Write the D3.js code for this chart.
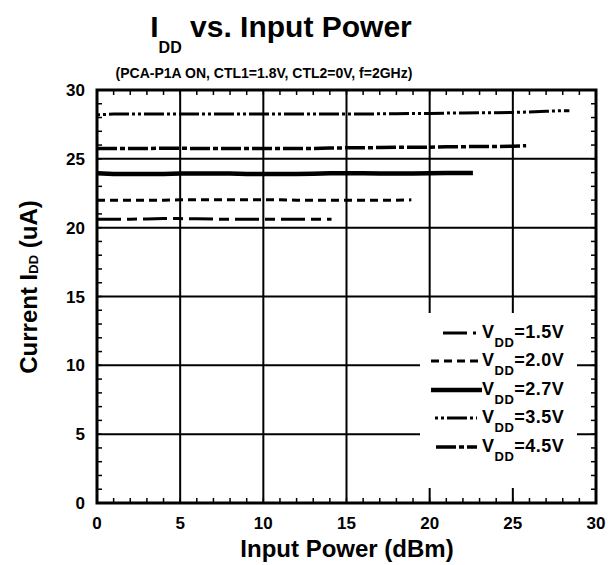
<!DOCTYPE html>
<html>
<head>
<meta charset="utf-8">
<script src="https://cdn.jsdelivr.net/npm/d3@7"></script>
<style>
  body { margin: 0; background: #fff; }
  text { font-family: "Liberation Sans", Arial, sans-serif; font-weight: bold; fill: #000; }
</style>
</head>
<body>
<svg id="chart" width="608" height="565"></svg>
<script>
var svg = d3.select("#chart"),
  width = +svg.attr("width"),
  height = +svg.attr("height");

// Data
var xTicks = [0, 5, 10, 15, 20, 25, 30];
var yTicks = [0, 5, 10, 15, 20, 25, 30];
var seriesNames = ["1.5V", "2.0V", "2.7V", "3.5V", "4.5V"];

var pin15 = [0, 1, 2, 3, 4, 5, 6, 7, 8, 9, 10, 11, 12, 13, 14.1];
var idd15 = [20.62, 20.62, 20.62, 20.63, 20.66, 20.66, 20.64, 20.62, 20.62, 20.62, 20.62, 20.62, 20.62, 20.62, 20.62];

var pin20 = [0, 1, 2, 3, 4, 5, 6, 7, 8, 9, 10, 11, 12, 13, 14, 15, 16, 17, 18, 18.9];
var idd20 = [22.0, 22.0, 22.0, 22.0, 22.0, 22.02, 22.02, 22.02, 22.02, 22.02, 22.02, 22.02, 22.0, 22.0, 22.0, 22.0, 22.0, 22.0, 22.0, 22.02];

var pin27 = [0, 1, 2, 3, 4, 5, 6, 7, 8, 9, 10, 11, 12, 13, 14, 15, 16, 17, 18, 19, 20, 21, 22, 22.6];
var idd27 = [23.95, 23.9, 23.9, 23.9, 23.9, 23.93, 23.93, 23.93, 23.93, 23.9, 23.9, 23.9, 23.9, 23.92, 23.95, 23.95, 23.95, 23.93, 23.93, 23.93, 23.95, 23.97, 23.97, 23.97];

var pin35 = [0, 1, 2, 3, 4, 5, 6, 7, 8, 9, 10, 11, 12, 13, 14, 15, 16, 17, 18, 19, 20, 21, 22, 23, 24, 25, 26, 27, 28, 28.4];
var idd35 = [28.2, 28.25, 28.25, 28.25, 28.25, 28.25, 28.25, 28.25, 28.25, 28.25, 28.25, 28.25, 28.25, 28.25, 28.25, 28.25, 28.25, 28.27, 28.27, 28.3, 28.3, 28.32, 28.33, 28.35, 28.35, 28.37, 28.4, 28.45, 28.5, 28.5];

var pin45 = [0, 1, 2, 3, 4, 5, 6, 7, 8, 9, 10, 11, 12, 13, 14, 15, 16, 17, 18, 19, 20, 21, 22, 23, 24, 25, 25.8];
var idd45 = [25.75, 25.75, 25.75, 25.75, 25.77, 25.77, 25.75, 25.75, 25.75, 25.75, 25.75, 25.75, 25.75, 25.75, 25.78, 25.8, 25.8, 25.82, 25.85, 25.85, 25.85, 25.87, 25.88, 25.9, 25.9, 25.92, 25.95];

var series = [
  {name: seriesNames[0], x: pin15, y: idd15, dash: "24,6,10,6", w: 3},
  {name: seriesNames[1], x: pin20, y: idd20, dash: "8,5", w: 3},
  {name: seriesNames[2], x: pin27, y: idd27, dash: null, w: 4.5},
  {name: seriesNames[3], x: pin35, y: idd35, dash: "3,3,3,3,20,3", w: 3},
  {name: seriesNames[4], x: pin45, y: idd45, dash: "20,3,5,3", w: 3.5}
];

// Plot box (not "top"/"left" — those clash with window globals)
var pLeft = 97, pRight = 596, pTop = 90, pBottom = 503;
var x = d3.scaleLinear().domain([0, 30]).range([pLeft, pRight]);
var y = d3.scaleLinear().domain([0, 30]).range([pBottom, pTop]);

// Legend box position
var legX0 = 420, legX1 = 577, legY0 = 313, legY1 = 488;

// Gridlines
var grid = svg.append("g").attr("stroke", "#000").attr("stroke-width", 2);
xTicks.slice(1, -1).forEach(function(t) {
  grid.append("line").attr("x1", x(t)).attr("x2", x(t)).attr("y1", pTop).attr("y2", pBottom);
});
yTicks.slice(1, -1).forEach(function(t) {
  grid.append("line").attr("x1", pLeft).attr("x2", pRight).attr("y1", y(t)).attr("y2", y(t));
});

// Minor ticks on all four sides
var minor = d3.range(1, 30);
var mt = svg.append("g").attr("stroke", "#000").attr("stroke-width", 1.5);
minor.forEach(function(t) {
  mt.append("line").attr("x1", x(t)).attr("x2", x(t)).attr("y1", pBottom).attr("y2", pBottom - 5);
  mt.append("line").attr("x1", x(t)).attr("x2", x(t)).attr("y1", pTop).attr("y2", pTop + 5);
  mt.append("line").attr("x1", pLeft).attr("x2", pLeft + 5).attr("y1", y(t)).attr("y2", y(t));
  mt.append("line").attr("x1", pRight).attr("x2", pRight - 5).attr("y1", y(t)).attr("y2", y(t));
});

// Legend background hides the grid
svg.append("rect")
  .attr("x", legX0).attr("y", legY0)
  .attr("width", legX1 - legX0).attr("height", legY1 - legY0)
  .attr("fill", "#fff");

// Frame
svg.append("rect")
  .attr("x", pLeft).attr("y", pTop)
  .attr("width", pRight - pLeft).attr("height", pBottom - pTop)
  .attr("fill", "none").attr("stroke", "#000").attr("stroke-width", 3);

// Data lines
var line = d3.line()
  .x(function(d) { return x(d[0]); })
  .y(function(d) { return y(d[1]); });

series.forEach(function(s) {
  svg.append("path")
    .datum(d3.zip(s.x, s.y))
    .attr("d", line)
    .attr("fill", "none")
    .attr("stroke", "#000")
    .attr("stroke-width", s.w)
    .attr("stroke-dasharray", s.dash);
});

// Tick labels
svg.append("g").selectAll("text")
  .data(xTicks).enter().append("text")
  .attr("x", function(d) { return x(d); })
  .attr("y", 529)
  .attr("text-anchor", "middle")
  .style("font-size", "17px")
  .text(function(d) { return d; });

svg.append("g").selectAll("text")
  .data(yTicks).enter().append("text")
  .attr("x", 85)
  .attr("y", function(d) { return y(d) + 6; })
  .attr("text-anchor", "end")
  .style("font-size", "17px")
  .text(function(d) { return d; });

// Axis titles
svg.append("text")
  .attr("x", 347).attr("y", 557)
  .attr("text-anchor", "middle")
  .style("font-size", "24px")
  .text("Input Power (dBm)");

var yl = svg.append("text")
  .attr("transform", "translate(37,287) rotate(-90)")
  .attr("text-anchor", "middle")
  .style("font-size", "24px");
yl.append("tspan").text("Current I");
yl.append("tspan").attr("dy", 1).style("font-size", "13px").text("DD");
yl.append("tspan").attr("dy", -1).text(" (uA)");

// Title
var title = svg.append("text")
  .attr("x", 281).attr("y", 37)
  .attr("text-anchor", "middle")
  .style("font-size", "30px");
title.append("tspan").text("I");
title.append("tspan").attr("dy", 16).style("font-size", "16px").text("DD");
title.append("tspan").attr("dy", -16).text(" vs. Input Power");

svg.append("text")
  .attr("x", 264).attr("y", 78)
  .attr("text-anchor", "middle")
  .style("font-size", "14px")
  .text("(PCA-P1A ON, CTL1=1.8V, CTL2=0V, f=2GHz)");

// Legend
var legRowY = [333, 361, 390, 418, 447];
var legLineX = [[443, 476], [431, 480], [431, 482], [435, 477], [436, 477]];
series.forEach(function(s, i) {
  svg.append("line")
    .attr("x1", legLineX[i][0]).attr("x2", legLineX[i][1])
    .attr("y1", legRowY[i]).attr("y2", legRowY[i])
    .attr("stroke", "#000")
    .attr("stroke-width", s.w)
    .attr("stroke-dasharray", s.dash);
  var t = svg.append("text")
    .attr("x", 482).attr("y", legRowY[i] + 5)
    .style("font-size", "18px")
    .style("letter-spacing", "0.5px");
  t.append("tspan").text("V");
  t.append("tspan").attr("dy", 9).style("font-size", "13px").text("DD");
  t.append("tspan").attr("dy", -9).text("=" + s.name);
});
</script>
</body>
</html>
